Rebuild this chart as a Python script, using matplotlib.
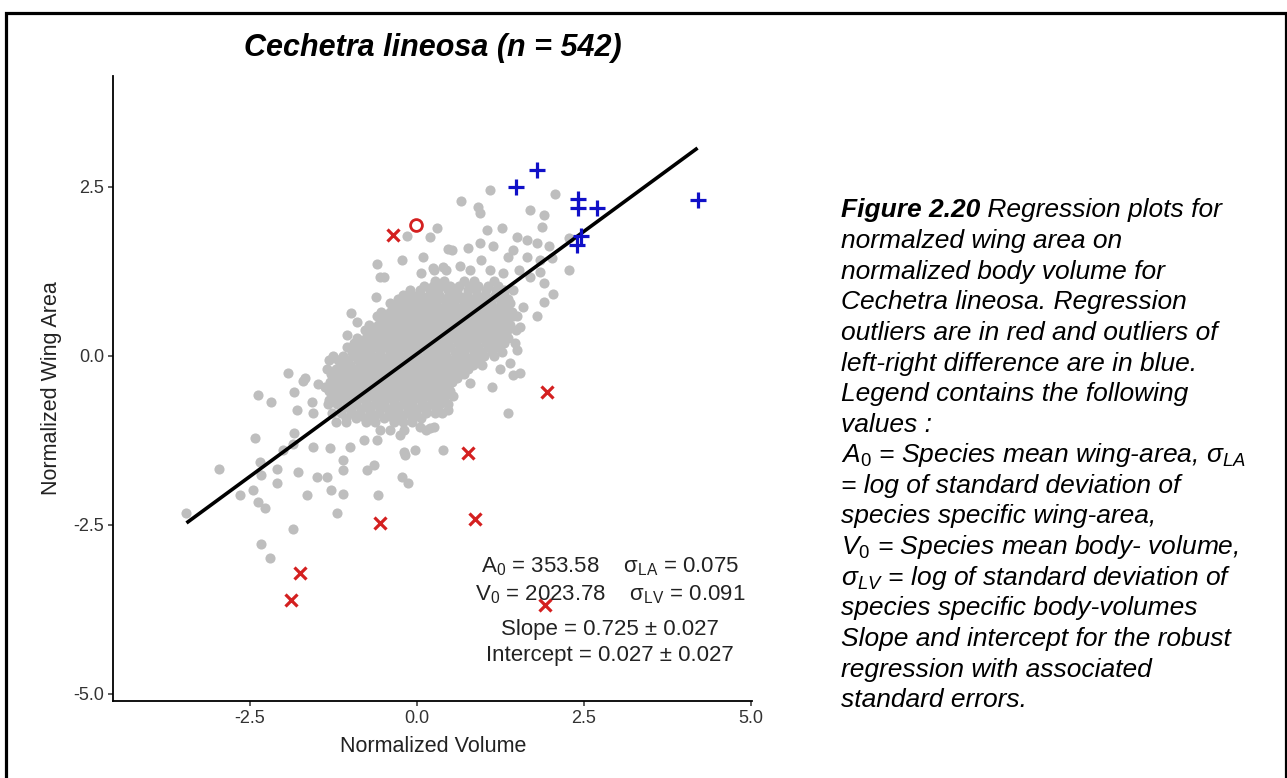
import matplotlib
matplotlib.use("Agg")
import matplotlib.pyplot as plt
from matplotlib.patches import Rectangle

plt.rcParams['font.family'] = ['Liberation Sans', 'DejaVu Sans']
plt.rcParams['mathtext.fontset'] = 'custom'
plt.rcParams['mathtext.rm'] = 'Liberation Sans'
plt.rcParams['mathtext.it'] = 'Liberation Sans:italic'
plt.rcParams['mathtext.bf'] = 'Liberation Sans:bold'

# dense core of the cloud, read row by row (y, x values)
core_rows = [
    (1.10, [0.27, 0.41, 0.70, 0.86, 1.16]),
    (1.035, [0.10, 0.24, 0.36, 0.50, 0.63, 0.78, 0.92, 1.07, 1.22]),
    (0.97, [-0.10, 0.04, 0.19, 0.31, 0.47, 0.60, 0.76, 0.89, 1.03, 1.18, 1.31, 1.44]),
    (0.905, [-0.21, -0.08, 0.06, 0.20, 0.33, 0.48, 0.62, 0.75, 0.90, 1.02, 1.17, 1.30]),
    (0.84, [-0.29, -0.15, -0.02, 0.13, 0.26, 0.40, 0.55, 0.68, 0.83, 0.95, 1.10, 1.24, 1.37]),
    (0.775, [-0.40, -0.26, -0.12, 0.01, 0.15, 0.29, 0.43, 0.56, 0.71, 0.84, 0.98, 1.11, 1.26, 1.40]),
    (0.71, [-0.33, -0.20, -0.06, 0.08, 0.21, 0.36, 0.49, 0.63, 0.77, 0.90, 1.05, 1.18, 1.33]),
    (0.645, [-0.54, -0.40, -0.26, -0.12, 0.02, 0.15, 0.30, 0.43, 0.58, 0.71, 0.85, 0.99, 1.13, 1.27, 1.42]),
    (0.58, [-0.60, -0.46, -0.31, -0.18, -0.03, 0.10, 0.24, 0.38, 0.52, 0.66, 0.79, 0.94, 1.07, 1.22, 1.36, 1.49]),
    (0.515, [-0.52, -0.38, -0.24, -0.10, 0.04, 0.18, 0.32, 0.46, 0.60, 0.74, 0.88, 1.02, 1.16, 1.30]),
    (0.45, [-0.72, -0.58, -0.44, -0.29, -0.16, -0.01, 0.13, 0.27, 0.40, 0.56, 0.69, 0.83, 0.97, 1.11, 1.26, 1.40]),
    (0.385, [-0.78, -0.63, -0.49, -0.35, -0.21, -0.07, 0.07, 0.21, 0.35, 0.49, 0.64, 0.78, 0.92, 1.06, 1.20, 1.35, 1.48]),
    (0.32, [-0.70, -0.55, -0.42, -0.27, -0.13, 0.01, 0.16, 0.29, 0.44, 0.58, 0.72, 0.85, 1.00, 1.14, 1.29]),
    (0.255, [-0.90, -0.76, -0.61, -0.47, -0.33, -0.19, -0.05, 0.09, 0.23, 0.37, 0.52, 0.66, 0.80, 0.94, 1.08, 1.22, 1.37]),
    (0.19, [-0.95, -0.80, -0.67, -0.52, -0.38, -0.24, -0.10, 0.05, 0.18, 0.33, 0.46, 0.61, 0.75, 0.89, 1.03, 1.17, 1.31, 1.46]),
    (0.125, [-1.04, -0.89, -0.75, -0.61, -0.47, -0.33, -0.19, -0.05, 0.08, 0.22, 0.36, 0.50, 0.64, 0.78, 0.92, 1.06, 1.20]),
    (0.06, [-0.97, -0.84, -0.70, -0.55, -0.41, -0.28, -0.13, 0.00, 0.15, 0.29, 0.42, 0.57, 0.71, 0.85, 0.98, 1.13, 1.28]),
    (-0.005, [-1.25, -1.11, -0.96, -0.82, -0.68, -0.54, -0.40, -0.26, -0.12, 0.02, 0.16, 0.30, 0.44, 0.58, 0.72, 0.86, 1.00, 1.16]),
    (-0.07, [-1.32, -1.18, -1.04, -0.89, -0.76, -0.61, -0.47, -0.34, -0.19, -0.05, 0.09, 0.23, 0.36, 0.51, 0.65, 0.79, 0.92]),
    (-0.135, [-1.14, -1.00, -0.86, -0.71, -0.57, -0.43, -0.29, -0.15, -0.01, 0.13, 0.27, 0.41, 0.55, 0.69, 0.84, 0.98]),
    (-0.20, [-1.35, -1.21, -1.07, -0.93, -0.78, -0.65, -0.50, -0.36, -0.22, -0.08, 0.06, 0.20, 0.34, 0.48, 0.61, 0.76]),
    (-0.265, [-1.29, -1.15, -1.01, -0.86, -0.72, -0.58, -0.44, -0.30, -0.16, -0.02, 0.12, 0.26, 0.40, 0.54, 0.70]),
    (-0.33, [-1.22, -1.08, -0.94, -0.79, -0.66, -0.52, -0.37, -0.24, -0.10, 0.04, 0.18, 0.32, 0.46, 0.60]),
    (-0.395, [-1.30, -1.16, -1.02, -0.88, -0.74, -0.60, -0.46, -0.32, -0.18, -0.04, 0.10, 0.24, 0.38, 0.52]),
    (-0.46, [-1.37, -1.23, -1.10, -0.95, -0.81, -0.67, -0.53, -0.40, -0.25, -0.11, 0.03, 0.17, 0.31, 0.46]),
    (-0.525, [-1.31, -1.17, -1.03, -0.89, -0.75, -0.61, -0.48, -0.33, -0.19, -0.05, 0.09, 0.23, 0.36, 0.49]),
    (-0.59, [-1.25, -1.11, -0.97, -0.83, -0.68, -0.55, -0.41, -0.27, -0.13, 0.01, 0.15, 0.29, 0.42, 0.54]),
    (-0.655, [-1.32, -1.18, -1.04, -0.90, -0.76, -0.62, -0.48, -0.34, -0.20, -0.06, 0.08, 0.22, 0.36]),
    (-0.72, [-1.33, -1.19, -1.05, -0.91, -0.77, -0.63, -0.49, -0.35, -0.21, -0.07, 0.07, 0.21, 0.34, 0.47]),
    (-0.785, [-1.12, -0.98, -0.84, -0.70, -0.56, -0.42, -0.28, -0.14, 0.00, 0.14, 0.28]),
    (-0.85, [-1.27, -1.13, -0.99, -0.85, -0.71, -0.57, -0.42, -0.29, -0.15, -0.01, 0.13, 0.27]),
    (-0.915, [-1.06, -0.92, -0.78, -0.64, -0.50, -0.36, -0.22, -0.08, 0.06]),
    (-0.98, [-1.21, -1.06, -0.77, -0.63, -0.35, -0.21, -0.07]),
]

# scattered grey points outside the core
loose_x = [-0.15, 0.30, 0.19, 0.46, -0.22, 0.09, -0.60, -0.55, 0.06, 0.24, 0.39, -0.61, -0.15, -0.28,
           -0.99, -0.90, -0.43, -1.05, -0.75, -1.93, -1.68,
           1.09, 0.66, 2.07, 0.92, 0.94, 1.69, 1.90, 1.05, 1.28, 1.87, 1.49, 1.64, 1.79, 1.97, 2.27,
           0.52, 0.77, 0.94, 1.14, 1.44, 1.37, 1.64, 1.84, 2.02, 2.27, -0.50, 0.25, 0.44, 0.64, 0.79,
           0.96, 1.09, 1.29, 1.52, 1.69, 1.84, 1.90, 2.04, 1.90, 1.80, 1.59, 1.44, 1.54, 1.34, 1.49,
           1.39, 1.54,
           -1.70, -1.48, -2.38, -2.18, -1.84, -1.80, -1.57, -1.55, -2.43, -1.84, -1.55, -1.30, -2.97,
           -2.35, -2.10, -2.33, -2.10, -2.65, -2.45, -2.38, -2.28, -3.45, -1.85, -2.33, -2.20, -1.78,
           -1.50, -1.35, -1.65, -1.28, -1.11, -1.20, -0.58, -1.10, -1.10, -0.75, -0.65, -0.23, -0.13,
           -0.20, -0.03, 0.39, -1.00, -0.80, -0.60, 0.14, 0.25, -0.55, -0.40, -0.20, -2.00, -1.85,
           1.37, 0.79, 1.12, 1.44, 1.24, 0.47, 0.37, 0.19, 0.04, -0.25, -0.18, 0.79, 0.64, 0.44]
loose_y = [1.77, 1.89, 1.76, 1.58, 1.42, 1.46, 1.36, 1.17, 1.22, 1.30, 1.31, 0.87, 0.90, 0.78,
           0.63, 0.50, 0.60, 0.31, 0.23, -0.26, -0.33,
           2.45, 2.29, 2.39, 2.20, 2.11, 2.16, 2.08, 1.86, 1.89, 1.91, 1.75, 1.71, 1.66, 1.62, 1.74,
           1.57, 1.60, 1.66, 1.62, 1.56, 1.46, 1.46, 1.42, 1.44, 1.27, 1.17, 1.27, 1.27, 1.32, 1.27,
           1.42, 1.27, 1.22, 1.27, 1.17, 1.24, 1.07, 0.92, 0.80, 0.58, 0.72, 0.58, 0.43, 0.33, 0.08,
           -0.11, -0.26,
           -0.38, -0.42, -0.58, -0.68, -0.53, -0.80, -0.69, -0.85, -1.22, -1.15, -1.35, -1.37, -1.68,
           -1.57, -1.67, -1.76, -1.89, -2.06, -1.99, -2.16, -2.26, -2.33, -2.57, -2.78, -3.00, -1.72,
           -1.79, -1.79, -2.06, -1.99, -2.04, -2.33, -2.06, -1.54, -1.69, -1.69, -1.62, -1.79, -1.89,
           -1.42, -1.39, -1.39, -1.35, -1.25, -1.25, -1.10, -1.05, -1.10, -1.10, -1.10, -1.39, -1.30,
           -0.85, -0.41, -0.46, -0.29, -0.19, -0.80, -0.85, -1.07, -1.05, -1.17, -1.47, -0.11, -0.24, -0.09]

# regression outliers (red) and left-right difference outliers (blue)
red_x = [-0.36, -1.75, -1.88, -0.55, 1.94, 0.77, 0.87, 1.92]
red_y = [1.79, -3.22, -3.61, -2.48, -0.53, -1.44, -2.41, -3.69]
ring_x = [-0.02]
ring_y = [1.93]
blue_x = [1.79, 1.48, 2.41, 2.41, 2.69, 2.46, 2.40, 4.20]
blue_y = [2.74, 2.50, 2.32, 2.18, 2.18, 1.77, 1.64, 2.30]

slope = 0.725
intercept = 0.027

stats_lines = [
    r"A$_\mathrm{0}$ = 353.58    σ$_\mathrm{LA}$ = 0.075",
    r"V$_\mathrm{0}$ = 2023.78    σ$_\mathrm{LV}$ = 0.091",
    "Slope = 0.725 ± 0.027",
    "Intercept = 0.027 ± 0.027",
]

caption_lines = [
    " Regression plots for",
    "normalzed wing area on",
    "normalized body volume for",
    "Cechetra lineosa. Regression",
    "outliers are in red and outliers of",
    "left-right difference are in blue.",
    "Legend contains the following",
    "values :",
    r"A$_\mathit{0}$ = Species mean wing-area, σ$_\mathit{LA}$",
    "= log of standard deviation of",
    "species specific wing-area,",
    r"V$_\mathit{0}$ = Species mean body- volume,",
    r"σ$_\mathit{LV}$ = log of standard deviation of",
    "species specific body-volumes",
    "Slope and intercept for the robust",
    "regression with associated",
    "standard errors.",
]

gray_x = list(loose_x)
gray_y = list(loose_y)
for yy, xs in core_rows:
    gray_x += xs
    gray_y += [yy] * len(xs)

W, H = 1287, 778
fig = plt.figure(figsize=(W / 100, H / 100), dpi=100)
fig.patch.set_facecolor('white')

def fx(px):
    return px / W

def fy(py):
    return 1 - py / H

ax = fig.add_axes([fx(113), fy(701), fx(752) - fx(113), fy(75.7) - fy(701)])
ax.plot(gray_x, gray_y, 'o', color='#BEBEBE', ms=7.3, mew=0, zorder=2)

all_x = gray_x + red_x + blue_x + ring_x
x0, x1 = min(all_x), max(all_x)
ax.plot([x0, x1], [intercept + slope * x0, intercept + slope * x1], color='black', lw=2.6,
        solid_capstyle='butt', zorder=3)

ax.plot(red_x, red_y, 'x', color='#D42020', ms=9, mew=2.3, zorder=5)
ax.plot(ring_x, ring_y, 'o', mfc='none', mec='#D42020', ms=8.5, mew=2, zorder=5)
ax.plot(blue_x, blue_y, '+', color='#1010C8', ms=12, mew=2.3, zorder=5)

ax.set_xlim(-4.55, 5.015)
ax.set_ylim(-5.108, 4.142)
ax.set_xticks([-2.5, 0.0, 2.5, 5.0])
ax.set_xticklabels(['-2.5', '0.0', '2.5', '5.0'])
ax.set_yticks([-5.0, -2.5, 0.0, 2.5])
ax.set_yticklabels(['-5.0', '-2.5', '0.0', '2.5'])
for side in ['top', 'right']:
    ax.spines[side].set_visible(False)
for side in ['left', 'bottom']:
    ax.spines[side].set_linewidth(1.3)
ax.tick_params(length=3.5, width=1.1, color='#333333', labelsize=13, labelcolor='#333333', pad=3)

for i, s in enumerate(stats_lines):
    fig.text(fx(610), fy([567, 595, 630, 655][i]), s, ha='center', va='center', fontsize=16,
             color='#222222', zorder=1)

fig.text(fx(433), fy(48), "Cechetra lineosa (n = 542)", ha='center', va='center', fontsize=22,
         fontweight='bold', fontstyle='italic')
fig.text(fx(433), fy(746), "Normalized Volume", ha='center', va='center', fontsize=15.5,
         color='#222222')
fig.text(fx(52), fy(388), "Normalized Wing Area", ha='center', va='center', rotation=90,
         fontsize=15.5, color='#222222')

# caption on the right
base0 = 217.5
step = 30.6
t1 = fig.text(fx(841), fy(base0), "Figure 2.20", ha='left', va='baseline', fontsize=19,
              fontweight='bold', fontstyle='italic')
fig.canvas.draw()
bb = t1.get_window_extent()
fig.text(bb.x1 / W, fy(base0), caption_lines[0], ha='left', va='baseline', fontsize=19,
         fontstyle='italic')
for i, s in enumerate(caption_lines[1:], start=1):
    fig.text(fx(841), fy(base0 + i * step), s, ha='left', va='baseline', fontsize=19,
             fontstyle='italic')

fig.patches.append(Rectangle((fx(5.5), -0.05), fx(1285.5) - fx(5.5), fy(12.5) + 0.05,
                             transform=fig.transFigure, fill=False, lw=2.3, edgecolor='black'))

fig.savefig("out.png", dpi=100)
